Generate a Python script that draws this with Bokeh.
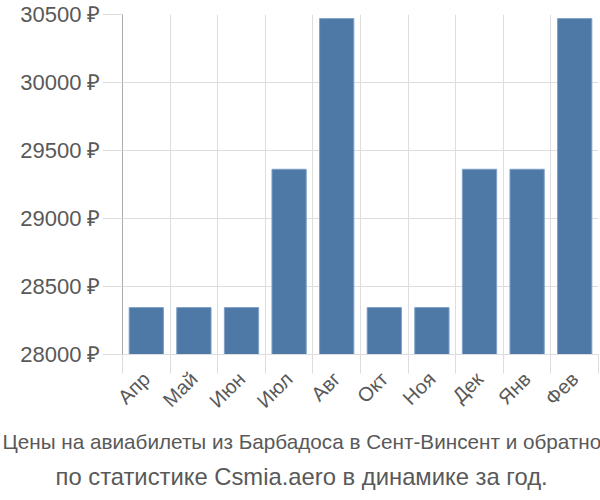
import math
from bokeh.plotting import figure
from bokeh.models import FixedTicker, Range1d, Title, ColumnDataSource
from bokeh.embed import file_html
from bokeh.resources import INLINE

months = ["Апр", "Май", "Июн", "Июл", "Авг", "Окт", "Ноя", "Дек", "Янв", "Фев"]
prices = [28345, 28345, 28345, 29362, 30470, 28345, 28345, 29362, 29362, 30470]
y_ticks = [28000, 28500, 29000, 29500, 30000, 30500]
y_labels = ["28000 ₽", "28500 ₽", "29000 ₽", "29500 ₽", "30000 ₽", "30500 ₽"]
title_lines = ["Цены на авиабилеты из Барбадоса в Сент-Винсент и обратно",
               "по статистике Csmia.aero в динамике за год."]

n = len(months)
centers = [i + 0.5 for i in range(n)]
src = ColumnDataSource(dict(x=centers, top=prices))

p = figure(width=600, height=500, output_backend="svg", toolbar_location=None,
           x_range=Range1d(0, n), y_range=Range1d(28000, 30500),
           min_border_left=122, min_border_right=2, min_border_top=14, min_border_bottom=146)
p.outline_line_color = None
p.background_fill_color = "white"
p.border_fill_color = "white"

p.vbar(x="x", top="top", bottom=28000, width=0.72, source=src,
       fill_color="#4e79a7", line_color="#7fa0c6", line_width=1)

GRID = "#dddddd"
TXT = "#595959"

# x axis
xt = FixedTicker(ticks=centers, minor_ticks=list(range(n + 1)))
p.xaxis.ticker = xt
p.xaxis.major_label_overrides = {c: m for c, m in zip(centers, months)}
p.xaxis.major_tick_line_color = None
p.xaxis.minor_tick_line_color = GRID
p.xaxis.minor_tick_out = 19
p.xaxis.minor_tick_in = 0
p.xaxis.axis_line_color = GRID
p.xaxis.major_label_orientation = math.pi / 4
p.xaxis.major_label_text_font = "Liberation Sans"
p.xaxis.major_label_text_font_size = "20px"
p.xaxis.major_label_text_color = TXT
p.xaxis.major_label_standoff = 2
p.xgrid.ticker = FixedTicker(ticks=list(range(n + 1)))
p.xgrid.grid_line_color = GRID

# y axis
p.yaxis.ticker = FixedTicker(ticks=y_ticks)
p.yaxis.major_label_overrides = {t: l for t, l in zip(y_ticks, y_labels)}
p.yaxis.major_tick_line_color = GRID
p.yaxis.major_tick_out = 20
p.yaxis.major_tick_in = 0
p.yaxis.minor_tick_line_color = None
p.yaxis.axis_line_color = "#aaaaaa"
p.yaxis.major_label_text_font = "Liberation Sans"
p.yaxis.major_label_text_font_size = "22px"
p.yaxis.major_label_text_color = TXT
p.yaxis.major_label_standoff = 2
p.ygrid.grid_line_color = GRID

sizes = ["20.7px", "23.8px"]
offsets = [-120, -67]
valigns = ["bottom", "top"]
for i, line in enumerate(title_lines):
    t = Title(text=line, align="left", offset=offsets[i], vertical_align=valigns[i],
              text_font="Liberation Sans", text_font_size=sizes[i],
              text_font_style="normal", text_color=TXT)
    p.add_layout(t, "below")

open("out.html", "w").write(file_html(p, INLINE))
